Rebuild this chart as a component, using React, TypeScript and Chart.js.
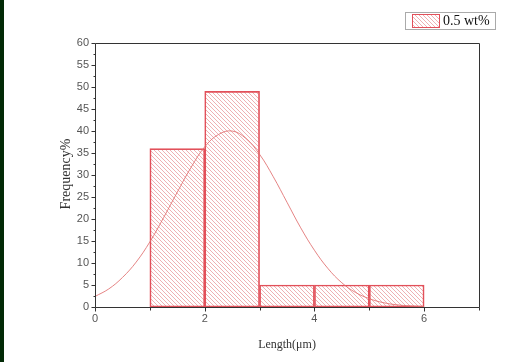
import React, { useEffect, useRef } from "react";
import { Chart, registerables } from "chart.js";

Chart.register(...registerables);

// Histogram bins (centers) and frequencies (%)
const binCenters = [1.5, 2.5, 3.5, 4.5, 5.5];
const frequencies = [36, 49, 5, 5, 5];

// Fitted distribution curve
const curveX = [0, 0.25, 0.5, 0.75, 1, 1.25, 1.5, 1.75, 2, 2.25, 2.5, 2.75, 3, 3.25, 3.5, 3.75, 4, 4.25, 4.5, 4.75, 5, 5.25, 5.5, 5.75, 6];
const curveY = [2.4, 4.1, 6.7, 10.2, 14.8, 20.3, 26.1, 31.7, 36.4, 39.2, 40, 38.3, 34.7, 29.6, 23.8, 18, 12.9, 8.7, 5.5, 3.3, 1.9, 1, 0.5, 0.25, 0.1];

const yTickValues = [0, 5, 10, 15, 20, 25, 30, 35, 40, 45, 50, 55, 60];
const xTickLabels = [0, 2, 4, 6];
const legendLabel = "0.5 wt%";
const xTitle = "Length(μm)";
const yTitle = "Frequency%";

function makeHatch(ctx: CanvasRenderingContext2D): CanvasPattern | string {
  const s = 4;
  const c = document.createElement("canvas");
  c.width = s;
  c.height = s;
  const g = c.getContext("2d");
  if (!g) return "rgba(220,60,60,0.3)";
  g.strokeStyle = "rgba(220,90,95,0.6)";
  g.lineWidth = 0.8;
  g.beginPath();
  g.moveTo(-1, -1);
  g.lineTo(s + 1, s + 1);
  g.moveTo(-1, s - 1);
  g.lineTo(1, s + 1);
  g.moveTo(s - 1, -1);
  g.lineTo(s + 1, 1);
  g.stroke();
  return ctx.createPattern(c, "repeat") || "rgba(220,60,60,0.3)";
}

export default function App() {
  const ref = useRef<HTMLCanvasElement | null>(null);

  useEffect(() => {
    document.body.style.margin = "0";
    const canvas = ref.current;
    if (!canvas) return;
    const ctx = canvas.getContext("2d");
    if (!ctx) return;
    const hatch = makeHatch(ctx);
    const axisColor = "#333";
    const barBorder = "#e2505a";

    const decor = {
      id: "decor",
      beforeDraw(chart: any) {
        const c = chart.ctx;
        c.save();
        c.fillStyle = "#ffffff";
        c.fillRect(0, 0, chart.width, chart.height);
        c.fillStyle = "#022a06";
        c.fillRect(0, 0, 4, chart.height);
        c.restore();
      },
      afterDraw(chart: any) {
        const c = chart.ctx;
        const a = chart.chartArea;
        const xs = chart.scales.x;
        const ys = chart.scales.y;
        const L = Math.round(a.left) + 0.5;
        const R = Math.round(a.right) + 0.5;
        const T = Math.round(a.top) + 0.5;
        const B = Math.round(a.bottom) + 0.5;
        c.save();
        c.strokeStyle = axisColor;
        c.lineWidth = 1;
        c.beginPath();
        c.rect(L, T, R - L, B - T);
        for (let v = 0; v <= 60; v += 2.5) {
          const y = Math.round(ys.getPixelForValue(v)) + 0.5;
          const len = v % 5 === 0 ? 4 : 2;
          c.moveTo(L, y);
          c.lineTo(L - len, y);
        }
        for (let v = 0; v <= 7; v += 1) {
          const x = Math.round(xs.getPixelForValue(v)) + 0.5;
          const len = v % 2 === 0 ? 4 : 3;
          c.moveTo(x, B);
          c.lineTo(x, B + len);
        }
        c.stroke();

        c.fillStyle = "#333";
        c.textAlign = "center";
        c.textBaseline = "middle";
        c.font = '12px "Liberation Serif", "Times New Roman", serif';
        c.fillText(xTitle, (a.left + a.right) / 2, 345);
        c.save();
        c.translate(66, 174);
        c.rotate(-Math.PI / 2);
        c.font = '14px "Liberation Serif", "Times New Roman", serif';
        c.fillText(yTitle, 0, 0);
        c.restore();

        c.strokeStyle = "#aaa";
        c.strokeRect(405.5, 12.5, 90, 17);
        c.fillStyle = hatch as any;
        c.fillRect(412, 14, 28, 14);
        c.strokeStyle = barBorder;
        c.strokeRect(412.5, 14.5, 27, 13);
        c.fillStyle = "#111";
        c.textAlign = "left";
        c.font = '14px "Liberation Serif", "Times New Roman", serif';
        c.fillText(legendLabel, 443, 21.5);
        c.restore();
      },
    };

    const chart = new Chart(ctx, {
      type: "bar",
      data: {
        datasets: [
          {
            type: "line",
            label: "fit",
            data: curveX.map((x, i) => ({ x, y: curveY[i] })),
            borderColor: "rgba(225,110,110,0.85)",
            borderWidth: 1,
            pointRadius: 0,
            tension: 0.4,
            fill: false,
            order: 0,
          } as any,
          {
            type: "bar",
            label: legendLabel,
            data: binCenters.map((x, i) => ({ x, y: frequencies[i] })),
            backgroundColor: hatch as any,
            borderColor: barBorder,
            borderWidth: 1,
            borderSkipped: false,
            barPercentage: 1,
            categoryPercentage: 1,
            order: 1,
          } as any,
        ],
      },
      options: {
        responsive: false,
        animation: false,
        events: [],
        layout: { padding: { top: 43, right: 29, left: 0, bottom: 0 } },
        plugins: {
          legend: { display: false },
          tooltip: { enabled: false },
          title: { display: false },
        },
        scales: {
          x: {
            type: "linear",
            min: 0,
            max: 7,
            offset: false,
            grid: { display: false, drawTicks: false, offset: false },
            border: { display: false },
            ticks: {
              stepSize: 1,
              autoSkip: false,
              maxRotation: 0,
              padding: 5,
              color: "#555",
              font: { family: '"Liberation Sans", Arial, sans-serif', size: 11 },
              callback: (v: any) => (xTickLabels.includes(Number(v)) ? String(v) : ""),
            },
            afterFit: (s: any) => {
              s.height = 55;
            },
          },
          y: {
            type: "linear",
            min: 0,
            max: 60,
            grid: { display: false, drawTicks: false },
            border: { display: false },
            ticks: {
              stepSize: 5,
              autoSkip: false,
              padding: 6,
              color: "#555",
              font: { family: '"Liberation Sans", Arial, sans-serif', size: 11 },
              callback: (v: any) => (yTickValues.includes(Number(v)) ? String(v) : ""),
            },
            afterFit: (s: any) => {
              s.width = 95;
            },
          },
        },
      },
      plugins: [decor],
    });

    return () => chart.destroy();
  }, []);

  return (
    <div style={{ width: 508, height: 362 }}>
      <canvas ref={ref} width={508} height={362} style={{ display: "block" }} />
    </div>
  );
}
